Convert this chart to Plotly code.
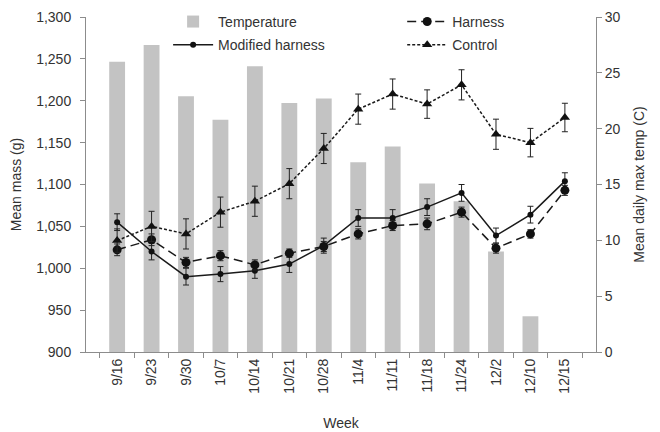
import plotly.graph_objects as go

weeks = ["9/16", "9/23", "9/30", "10/7", "10/14", "10/21", "10/28",
         "11/4", "11/11", "11/18", "11/24", "12/2", "12/10", "12/15"]
temperature = [26.0, 27.5, 22.9, 20.8, 25.6, 22.3, 22.7,
               17.0, 18.4, 15.1, 13.5, 9.0, 3.2, None]
harness = [1022, 1034, 1007, 1015, 1004, 1018, 1026,
           1041, 1051, 1053, 1067, 1024, 1041, 1093]
harness_err = [7, 7, 6, 6, 6, 5, 6, 6, 6, 7, 6, 6, 5, 6]
modified = [1055, 1020, 990, 993, 997, 1005, 1027,
            1060, 1060, 1073, 1090, 1039, 1064, 1104]
modified_err = [10, 10, 10, 9, 9, 10, 9, 10, 10, 10, 10, 9, 10, 10]
control = [1033, 1050, 1041, 1067, 1080, 1101, 1143,
           1190, 1208, 1196, 1219, 1160, 1150, 1180]
control_err = [14, 18, 18, 18, 18, 18, 18, 18, 18, 17, 18, 18, 17, 17]

FONT = "Liberation Sans, Arial, sans-serif"
AX = "#8c8c8c"
TXT = "#333333"

fig = go.Figure()
fig.add_trace(go.Bar(x=weeks, y=temperature, name="Temperature",
                     marker=dict(color="#c3c3c3", line=dict(width=0)),
                     yaxis="y", legend="legend", showlegend=True))
fig.add_trace(go.Scatter(x=weeks, y=modified, name="Modified harness", mode="lines+markers",
                         line=dict(color="#1a1a1a", width=1.5, dash="solid"),
                         marker=dict(symbol="circle", size=6, color="#111"),
                         error_y=dict(type="data", array=modified_err, color="#222", thickness=1, width=3),
                         yaxis="y2", legend="legend2"))
fig.add_trace(go.Scatter(x=weeks, y=harness, name="Harness", mode="lines+markers",
                         line=dict(color="#1a1a1a", width=1.5, dash="9px,5px"),
                         marker=dict(symbol="circle", size=9, color="#111"),
                         error_y=dict(type="data", array=harness_err, color="#222", thickness=1, width=3),
                         yaxis="y2", legend="legend3"))
fig.add_trace(go.Scatter(x=weeks, y=control, name="Control", mode="lines+markers",
                         line=dict(color="#1a1a1a", width=1.5, dash="3px,2px"),
                         marker=dict(symbol="triangle-up", size=9, color="#111"),
                         error_y=dict(type="data", array=control_err, color="#222", thickness=1, width=3),
                         yaxis="y2", legend="legend4"))

leg = dict(xanchor="left", yanchor="top", bgcolor="rgba(0,0,0,0)",
           font=dict(size=14), tracegroupgap=0, itemwidth=40)

fig.update_layout(
    width=652, height=424,
    showlegend=True,
    margin=dict(l=78, r=64, t=9, b=80, autoexpand=False),
    paper_bgcolor="white", plot_bgcolor="white",
    font=dict(family=FONT, size=14, color=TXT),
    bargap=0.54,
    xaxis=dict(type="category", tickangle=-90, showline=True, linecolor=AX, linewidth=1,
               ticks="outside", tickson="boundaries", ticklen=5, tickcolor=AX,
               tickfont=dict(size=14), showgrid=False, automargin=False,
               title=dict(text="Week", standoff=25, font=dict(size=14))),
    yaxis=dict(range=[0, 30], dtick=5, side="right", showline=True, linecolor=AX,
               ticks="outside", ticklen=5, tickcolor=AX, showgrid=False, zeroline=False,
               tickfont=dict(size=14), automargin=False,
               title=dict(text="Mean daily max temp (C)", standoff=14, font=dict(size=14))),
    yaxis2=dict(range=[900, 1300], dtick=50, side="left", overlaying="y", tickformat=",",
                showline=True, linecolor=AX, ticks="outside", ticklen=5, tickcolor=AX,
                showgrid=False, zeroline=False, tickfont=dict(size=14), automargin=False,
                ticklabelstandoff=6,
                title=dict(text="Mean mass (g)", standoff=13, font=dict(size=14))),
    legend=dict(x=0.161, y=1.033, **leg),
    legend2=dict(x=0.161, y=0.964, **leg),
    legend3=dict(x=0.62, y=1.033, **leg),
    legend4=dict(x=0.62, y=0.964, **leg),
)

fig.write_html("out.html")
